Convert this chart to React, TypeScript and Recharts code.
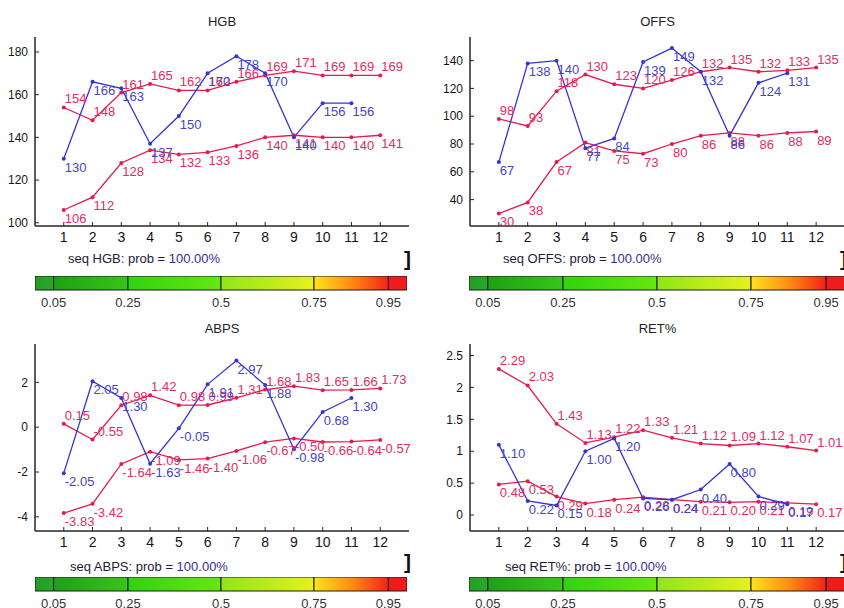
import { LineChart, Line, XAxis, YAxis, LabelList, BarChart, Bar } from "recharts";

const STEPS = [1, 2, 3, 4, 5, 6, 7, 8, 9, 10, 11, 12];

const HGB_UPPER = [154, 148, 161, 165, 162, 162, 166, 169, 171, 169, 169, 169];
const HGB_LOWER = [106, 112, 128, 134, 132, 133, 136, 140, 141, 140, 140, 141];
const HGB_SEQ = [130, 166, 163, 137, 150, 170, 178, 170, 140, 156, 156];

const OFFS_UPPER = [98, 93, 118, 130, 123, 120, 126, 132, 135, 132, 133, 135];
const OFFS_LOWER = [30, 38, 67, 81, 75, 73, 80, 86, 88, 86, 88, 89];
const OFFS_SEQ = [67, 138, 140, 77, 84, 139, 149, 132, 86, 124, 131];

const ABPS_UPPER = [0.15, -0.55, 0.98, 1.42, 0.98, 0.99, 1.31, 1.68, 1.83, 1.65, 1.66, 1.73];
const ABPS_LOWER = [-3.83, -3.42, -1.64, -1.09, -1.46, -1.4, -1.06, -0.67, -0.5, -0.66, -0.64, -0.57];
const ABPS_SEQ = [-2.05, 2.05, 1.3, -1.63, -0.05, 1.91, 2.97, 1.88, -0.98, 0.68, 1.3];

const RET_UPPER = [2.29, 2.03, 1.43, 1.13, 1.22, 1.33, 1.21, 1.12, 1.09, 1.12, 1.07, 1.01];
const RET_LOWER = [0.48, 0.53, 0.29, 0.18, 0.24, 0.28, 0.24, 0.21, 0.2, 0.21, 0.19, 0.17];
const RET_SEQ = [1.1, 0.22, 0.15, 1.0, 1.2, 0.26, 0.24, 0.4, 0.8, 0.29, 0.17];

const HGB_TICKS = [100, 120, 140, 160, 180];
const OFFS_TICKS = [40, 60, 80, 100, 120, 140];
const ABPS_TICKS = [-4, -2, 0, 2];
const RET_TICKS = [0, 0.5, 1, 1.5, 2, 2.5];

const PROB_EDGES = [0, 0.05, 0.25, 0.5, 0.75, 0.95, 1];
const PROB_TICKS = [0.05, 0.25, 0.5, 0.75, 0.95];

const FONT = '"Liberation Sans", Arial, sans-serif';
const RED = "#e9194b";
const RED_TXT = "#e22c63";
const BLUE = "#3434d6";
const BLUE_TXT = "#4545c4";
const FRAME = "#262626";

// gradient stops for each band of the probability bar
const BAND_COLORS = [
  ["#229e22", "#2aa62a"],
  ["#1f9f18", "#3ac41a"],
  ["#32d212", "#68e612"],
  ["#8ee61a", "#e8f01e"],
  ["#ffe41a", "#ff8e14", "#f22218"],
  ["#f01c1c", "#f01c1c"],
];

const makeLabel = (color: string, dy: number, digits: number) => (props: any) => {
  const { value } = props;
  if (value == null) return null;
  const x = props.x ?? props.viewBox?.x;
  const y = props.y ?? props.viewBox?.y;
  if (x == null || y == null) return null;
  return (
    <text x={x + 1} y={y + dy} fill={color} fontSize={13} fontFamily={FONT} textAnchor="start">
      {Number(value).toFixed(digits)}
    </text>
  );
};

interface PanelProps {
  title: string;
  left: number;
  top: number;
  width: number;
  height: number;
  domain: [number, number];
  yTicks: number[];
  upper: number[];
  lower: number[];
  seq: number[];
  digits: number;
}

function Panel(p: PanelProps) {
  const YW = 36, MT = 24, MR = 46, XH = 24;
  const data = STEPS.map((s, i) => ({ step: s, up: p.upper[i], lo: p.lower[i], bl: p.seq[i] }));
  const dot = (c: string) => ({ r: 2, fill: c, stroke: c, strokeWidth: 0 });
  const tickFont = { fontFamily: FONT, fill: "#151515" };

  return (
    <>
      <div style={{
        position: "absolute", left: p.left + p.width / 2, top: p.top - 16,
        transform: "translate(-50%, -50%)", fontSize: 13, color: "#222", fontFamily: FONT,
      }}>{p.title}</div>
      <div style={{ position: "absolute", left: p.left - YW, top: p.top - MT }}>
        <LineChart width={YW + p.width + MR} height={MT + p.height + XH} data={data}
          margin={{ top: MT, right: MR, left: 0, bottom: 0 }}>
          <XAxis dataKey="step" type="number" domain={[0, 13]} ticks={STEPS} interval={0}
            allowDataOverflow height={XH} tickSize={-4} tickMargin={10}
            axisLine={{ stroke: FRAME, strokeWidth: 1.5 }} tickLine={{ stroke: FRAME }}
            tick={{ ...tickFont, fontSize: 14 }} />
          <XAxis xAxisId="top" orientation="top" dataKey="step" type="number" domain={[0, 13]}
            ticks={STEPS} interval={0} allowDataOverflow height={0} tickSize={-4} tick={false}
            axisLine={{ stroke: FRAME, strokeWidth: 1.5 }} tickLine={{ stroke: FRAME }} />
          <YAxis type="number" domain={p.domain} ticks={p.yTicks} interval={0} allowDataOverflow
            width={YW} tickSize={-4} tickMargin={11}
            axisLine={{ stroke: FRAME, strokeWidth: 1.5 }} tickLine={{ stroke: FRAME }}
            tick={{ ...tickFont, fontSize: 12 }} />
          <YAxis yAxisId="right" orientation="right" type="number" domain={p.domain} ticks={p.yTicks}
            interval={0} allowDataOverflow width={0} tickSize={-4} tick={false}
            axisLine={{ stroke: FRAME, strokeWidth: 1.5 }} tickLine={{ stroke: FRAME }} />
          <Line dataKey="up" stroke={RED} strokeWidth={1.3} dot={dot(RED)} isAnimationActive={false}>
            <LabelList dataKey="up" content={makeLabel(RED_TXT, -4, p.digits)} />
          </Line>
          <Line dataKey="lo" stroke={RED} strokeWidth={1.3} dot={dot(RED)} isAnimationActive={false}>
            <LabelList dataKey="lo" content={makeLabel(RED_TXT, 13, p.digits)} />
          </Line>
          <Line dataKey="bl" stroke={BLUE} strokeWidth={1.3} dot={dot(BLUE)} isAnimationActive={false}>
            <LabelList dataKey="bl" content={makeLabel(BLUE_TXT, 13, p.digits)} />
          </Line>
        </LineChart>
      </div>
    </>
  );
}

function SeqText({ left, top, name }: { left: number; top: number; name: string }) {
  return (
    <div style={{
      position: "absolute", left, top, transform: "translateY(-50%)",
      fontSize: 13, fontFamily: FONT, color: "#1d1a3a", whiteSpace: "nowrap",
    }}>
      seq {name}: prob = <span style={{ color: "#3b2b92" }}>100.00%</span>
    </div>
  );
}

function Bracket({ left, top }: { left: number; top: number }) {
  return (
    <div style={{
      position: "absolute", left, top, transform: "translateY(-50%)",
      fontSize: 21, fontWeight: 700, fontFamily: FONT, color: "#111", lineHeight: 1,
    }}>]</div>
  );
}

function ColorBar({ left, top, width, id }: { left: number; top: number; width: number; id: string }) {
  const row: Record<string, number | string> = { name: "p" };
  PROB_EDGES.slice(1).forEach((e, i) => { row[`s${i}`] = e - PROB_EDGES[i]; });
  return (
    <div style={{ position: "absolute", left, top }}>
      <BarChart width={width} height={14 + 26} data={[row]} layout="vertical"
        margin={{ top: 0, right: 0, left: 0, bottom: 0 }} barCategoryGap={0}>
        <defs>
          {BAND_COLORS.map((cols, i) => (
            <linearGradient key={i} id={`${id}-g${i}`} x1="0" y1="0" x2="1" y2="0">
              {cols.map((c, j) => (
                <stop key={j} offset={cols.length === 1 ? 0 : j / (cols.length - 1)} stopColor={c} />
              ))}
            </linearGradient>
          ))}
        </defs>
        <XAxis type="number" domain={[0, 1]} ticks={PROB_TICKS} interval={0} height={26}
          axisLine={false} tickLine={false} tickSize={0} tickMargin={8}
          tick={{ fontSize: 13, fill: "#333", fontFamily: FONT }} />
        <YAxis type="category" dataKey="name" hide />
        {BAND_COLORS.map((_, i) => (
          <Bar key={i} dataKey={`s${i}`} stackId="p" fill={`url(#${id}-g${i})`}
            stroke="#1a1a1a" strokeWidth={1} isAnimationActive={false} />
        ))}
      </BarChart>
    </div>
  );
}

export default function App() {
  return (
    <div style={{
      position: "absolute", left: 0, top: 0, width: 844, height: 608, overflow: "hidden",
      background: "#fff", fontFamily: FONT,
    }}>
      <Panel title="HGB" left={35} top={37} width={374} height={189} domain={[98.5, 187]}
        yTicks={HGB_TICKS} upper={HGB_UPPER} lower={HGB_LOWER} seq={HGB_SEQ} digits={0} />
      <Panel title="OFFS" left={470} top={37} width={375} height={189} domain={[21, 157]}
        yTicks={OFFS_TICKS} upper={OFFS_UPPER} lower={OFFS_LOWER} seq={OFFS_SEQ} digits={0} />
      <Panel title="ABPS" left={35} top={344} width={374} height={187} domain={[-4.63, 3.71]}
        yTicks={ABPS_TICKS} upper={ABPS_UPPER} lower={ABPS_LOWER} seq={ABPS_SEQ} digits={2} />
      <Panel title="RET%" left={470} top={344} width={375} height={187} domain={[-0.25, 2.68]}
        yTicks={RET_TICKS} upper={RET_UPPER} lower={RET_LOWER} seq={RET_SEQ} digits={2} />

      <SeqText left={68} top={258} name="HGB" />
      <SeqText left={503} top={258} name="OFFS" />
      <SeqText left={70} top={566} name="ABPS" />
      <SeqText left={505} top={566} name="RET%" />

      <Bracket left={404} top={258} />
      <Bracket left={840} top={258} />
      <Bracket left={404} top={561} />
      <Bracket left={840} top={561} />

      <ColorBar left={35} top={276} width={372} id="cb1" />
      <ColorBar left={469} top={276} width={376} id="cb2" />
      <ColorBar left={35} top={577} width={372} id="cb3" />
      <ColorBar left={469} top={577} width={376} id="cb4" />
    </div>
  );
}
